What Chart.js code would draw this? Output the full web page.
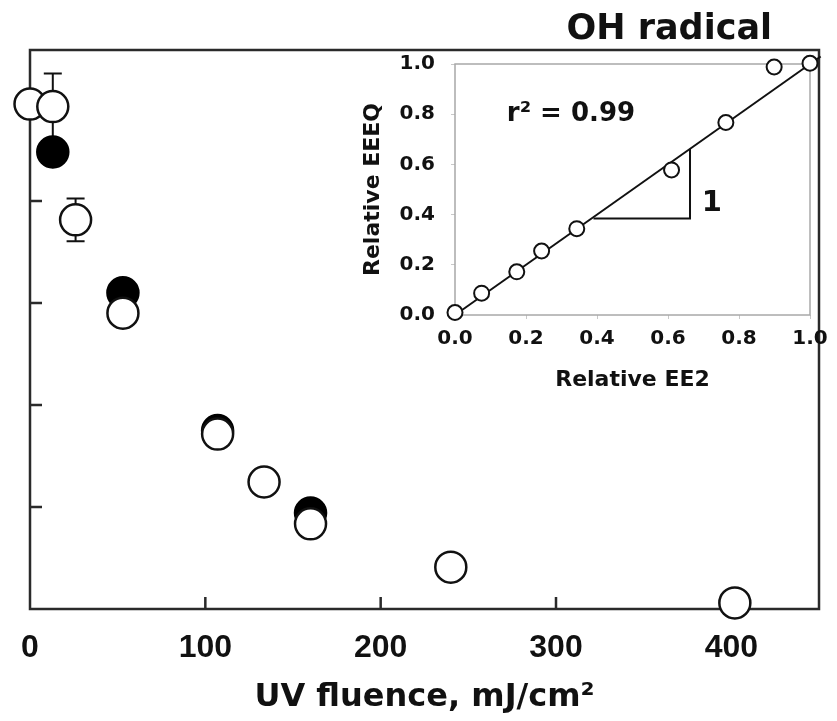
<!DOCTYPE html>
<html><head><meta charset="utf-8">
<script src="https://cdn.jsdelivr.net/npm/chart.js@4.4.1/dist/chart.umd.min.js"></script>
<style>
html,body{margin:0;padding:0;background:#fff;}
#wrap{position:relative;width:837px;height:721px;overflow:hidden;}
#main{position:absolute;left:0;top:0;}
#inset{position:absolute;left:340px;top:36px;}
</style></head><body>
<div id="wrap"><canvas id="main" width="837" height="721"></canvas><canvas id="inset" width="497" height="364"></canvas></div>
<script>
// ---- main panel data ----
const fluenceOpen = [0, 13, 26, 53, 107, 133.5, 160, 240, 402];
const relOpen     = [0.99, 0.985, 0.763, 0.58, 0.343, 0.249, 0.167, 0.082, 0.012];
const errOpen     = [0, 0.065, 0.042, 0, 0, 0, 0, 0, 0];
const fluenceFilled = [13, 53, 107, 160];
const relFilled     = [0.896, 0.62, 0.35, 0.188];
const xTickValues = [0, 100, 200, 300, 400];
const yTickValues = [0.2, 0.4, 0.6, 0.8, 1.0];
const mainTitle = 'OH radical';
const xTitle = 'UV fluence, mJ/cm\u00B2';
// ---- inset data ----
const relEE2  = [0, 0.075, 0.174, 0.244, 0.343, 0.61, 0.763, 0.899, 1.0];
const relEEEQ = [0.01, 0.087, 0.172, 0.255, 0.344, 0.578, 0.767, 0.988, 1.003];
const fitX = [0, 1.03];
const fitY = [0, 1.03];
const slopeX = [0.39, 0.662, 0.662];
const slopeY = [0.384, 0.384, 0.661];
const insetTicks = [0, 0.2, 0.4, 0.6, 0.8, 1.0];
const r2Text = 'r\u00B2 = 0.99';
const slopeLabel = '1';

const INK = '#111';
const AXIS = '#2a2a2a';
const BOLD = '"DejaVu Sans", sans-serif';
const ARIAL = '"Liberation Sans", Arial, sans-serif';

const pts = (xs, ys) => xs.map((x, i) => ({x: x, y: ys[i]}));

// ---------- main chart ----------
const mainPlugin = {
  id: 'mainDeco',
  beforeDatasetsDraw(chart) {
    const {ctx, chartArea: a, scales: {x, y}} = chart;
    ctx.save();
    ctx.strokeStyle = AXIS; ctx.lineWidth = 2.5;
    ctx.strokeRect(a.left, a.top, a.right - a.left, a.bottom - a.top);
    ctx.beginPath();
    yTickValues.forEach(v => { const py = y.getPixelForValue(v); ctx.moveTo(a.left, py); ctx.lineTo(a.left + 12, py); });
    xTickValues.forEach(v => { if (v === 0) return; const px = x.getPixelForValue(v); ctx.moveTo(px, a.bottom); ctx.lineTo(px, a.bottom - 12); });
    ctx.stroke();
    ctx.strokeStyle = INK; ctx.lineWidth = 2;
    ctx.beginPath();
    errOpen.forEach((e, i) => {
      if (!e) return;
      const px = x.getPixelForValue(fluenceOpen[i]);
      const t = y.getPixelForValue(relOpen[i] + e), b = y.getPixelForValue(relOpen[i] - e);
      ctx.moveTo(px, t); ctx.lineTo(px, b);
      ctx.moveTo(px - 9, t); ctx.lineTo(px + 9, t);
      ctx.moveTo(px - 9, b); ctx.lineTo(px + 9, b);
    });
    ctx.stroke();
    ctx.restore();
  },
  afterDraw(chart) {
    const {ctx, chartArea: a} = chart;
    ctx.save();
    ctx.fillStyle = INK;
    ctx.font = 'bold 35px ' + BOLD;
    ctx.textAlign = 'right'; ctx.textBaseline = 'middle';
    ctx.fillText(mainTitle, a.right - 47, 30);
    ctx.restore();
  }
};

new Chart(document.getElementById('main'), {
  type: 'scatter',
  data: {
    datasets: [
      { label: 'open', data: pts(fluenceOpen, relOpen), backgroundColor: '#fff', borderColor: INK, borderWidth: 2.5, pointRadius: 15.5, pointHoverRadius: 15.5, clip: false },
      { label: 'filled', data: pts(fluenceFilled, relFilled), backgroundColor: '#000', borderColor: '#000', borderWidth: 2.5, pointRadius: 15.5, pointHoverRadius: 15.5, clip: false }
    ]
  },
  options: {
    responsive: false, animation: false,
    layout: { padding: { left: 0, right: 12, top: 50, bottom: 0 } },
    plugins: { legend: { display: false }, tooltip: { enabled: false } },
    scales: {
      x: {
        type: 'linear', min: 0, max: 450,
        afterBuildTicks: s => { s.ticks = xTickValues.map(v => ({value: v})); },
        afterFit: s => { s.height = 112; },
        grid: { display: false, drawTicks: false },
        border: { display: false },
        ticks: { color: INK, padding: 20, font: { family: ARIAL, size: 32, weight: 'bold' }, maxRotation: 0 },
        title: { display: true, text: xTitle, color: INK, padding: { top: 0, bottom: 4 }, font: { family: BOLD, size: 32, weight: 'bold' } }
      },
      y: {
        type: 'linear', min: 0, max: 1.096,
        afterBuildTicks: s => { s.ticks = yTickValues.map(v => ({value: v})); },
        afterFit: s => { s.width = 30; },
        grid: { display: false, drawTicks: false },
        border: { display: false },
        ticks: { display: false }
      }
    }
  },
  plugins: [mainPlugin]
});

// ---------- inset chart ----------
const insetPlugin = {
  id: 'insetDeco',
  beforeDatasetsDraw(chart) {
    const {ctx, chartArea: a} = chart;
    ctx.save();
    ctx.strokeStyle = '#a8a8a8'; ctx.lineWidth = 1.5;
    ctx.strokeRect(a.left, a.top, a.right - a.left, a.bottom - a.top);
    ctx.restore();
  },
  afterDatasetsDraw(chart) {
    const {ctx, scales: {x, y}} = chart;
    ctx.save();
    ctx.fillStyle = INK;
    ctx.textBaseline = 'middle'; ctx.textAlign = 'left';
    ctx.font = 'bold 26px ' + BOLD;
    ctx.fillText(r2Text, x.getPixelForValue(0.146), y.getPixelForValue(0.80));
    ctx.font = 'bold 29px ' + BOLD;
    ctx.fillText(slopeLabel, x.getPixelForValue(0.695), y.getPixelForValue(0.445));
    ctx.restore();
  }
};

const insetAxis = (titleText, isX) => ({
  type: 'linear', min: 0, max: 1,
  afterBuildTicks: s => { s.ticks = insetTicks.map(v => ({value: v})); },
  afterFit: s => { if (isX) s.height = 85; else s.width = 115; },
  grid: { drawOnChartArea: false, drawTicks: true, tickLength: 4, color: '#c8c8c8' },
  border: { display: false },
  ticks: { color: INK, padding: isX ? 8 : 16, font: { family: BOLD, size: 20, weight: 'bold' }, callback: v => v.toFixed(1), maxRotation: 0 },
  title: { display: true, text: titleText, color: INK, padding: isX ? { top: 0, bottom: 7 } : { top: 20, bottom: 0 }, font: { family: BOLD, size: 22, weight: 'bold' } }
});

new Chart(document.getElementById('inset'), {
  type: 'scatter',
  data: {
    datasets: [
      { label: 'points', data: pts(relEE2, relEEEQ), backgroundColor: '#fff', borderColor: INK, borderWidth: 2, pointRadius: 7.5, pointHoverRadius: 7.5, clip: false },
      { label: 'fit', data: pts(fitX, fitY), showLine: true, borderColor: INK, borderWidth: 2, pointRadius: 0, clip: false },
      { label: 'slope', data: pts(slopeX, slopeY), showLine: true, borderColor: INK, borderWidth: 2, pointRadius: 0, clip: false }
    ]
  },
  options: {
    responsive: false, animation: false,
    layout: { padding: { left: 0, right: 27, top: 8, bottom: 0 } },
    plugins: { legend: { display: false }, tooltip: { enabled: false } },
    scales: { x: insetAxis('Relative EE2', true), y: insetAxis('Relative EEEQ', false) }
  },
  plugins: [insetPlugin]
});
</script>
</body></html>
